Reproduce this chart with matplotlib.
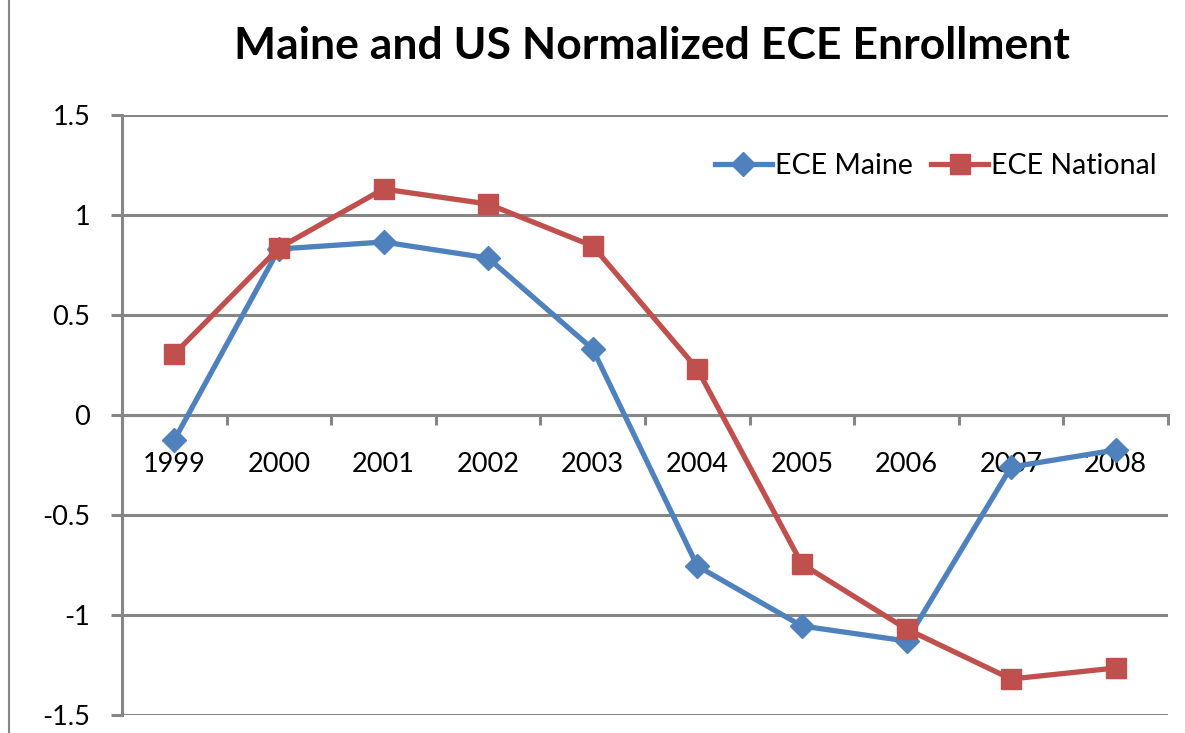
import numpy as np
import matplotlib.pyplot as plt
from matplotlib.lines import Line2D

plt.rcParams['font.family'] = ['Lato', 'DejaVu Sans']

years = ['1999', '2000', '2001', '2002', '2003', '2004', '2005', '2006', '2007', '2008']
maine = [-0.125, 0.83, 0.865, 0.785, 0.33, -0.755, -1.055, -1.13, -0.26, -0.175]
national = [0.305, 0.835, 1.13, 1.055, 0.845, 0.23, -0.745, -1.07, -1.32, -1.265]

blue = '#4F81BD'
red = '#C0504D'
grid_col = '#868686'

fig = plt.figure(figsize=(11.85, 7.33), dpi=100)
ax = fig.add_axes([122 / 1185, 18 / 733, 1046 / 1185, 600 / 733])

x = np.arange(len(years))
ax.plot(x, maine, color=blue, lw=3.8, marker='D', ms=12, label='ECE Maine', zorder=3)
ax.plot(x, national, color=red, lw=3.8, marker='s', ms=15, label='ECE National', zorder=3)

ax.set_xlim(-0.5, len(years) - 0.5)
ax.set_ylim(-1.5, 1.5)
ax.set_yticks([-1.5, -1, -0.5, 0, 0.5, 1, 1.5])
ax.set_yticklabels(['-1.5', '-1', '-0.5', '0', '0.5', '1', '1.5'])
ax.yaxis.grid(True, color=grid_col, lw=2.2)
ax.set_axisbelow(True)

# category axis crossing at zero
ax.spines['bottom'].set_position(('data', 0))
ax.spines['bottom'].set_color(grid_col)
ax.spines['bottom'].set_linewidth(2.2)
ax.spines['left'].set_color(grid_col)
ax.spines['left'].set_linewidth(2.2)
ax.spines['top'].set_visible(False)
ax.spines['right'].set_visible(False)

ax.set_xticks(x)
ax.set_xticklabels(years)
ax.set_xticks(np.arange(len(years) + 1) - 0.5, minor=True)
ax.tick_params(axis='x', which='major', length=0, pad=27, labelsize=19.5)
ax.tick_params(axis='x', which='minor', length=7.5, width=2.2, color=grid_col, direction='out')
ax.tick_params(axis='y', length=8, width=2.2, color=grid_col, pad=15, labelsize=19.5)

ax.legend(loc='upper right', bbox_to_anchor=(1.0, 0.955), frameon=False, fontsize=20.5,
          ncol=2, handlelength=2.0, handletextpad=0.1, columnspacing=0.65, borderaxespad=0)

fig.text(652 / 1185, 1 - 46 / 733, 'Maine and US Normalized ECE Enrollment',
         ha='center', va='center', fontsize=32, fontweight='bold')

fig.add_artist(Line2D([9 / 1185, 9 / 1185], [0, 1], transform=fig.transFigure,
                      color=grid_col, lw=1.5))

fig.savefig('out.png', dpi=100)
